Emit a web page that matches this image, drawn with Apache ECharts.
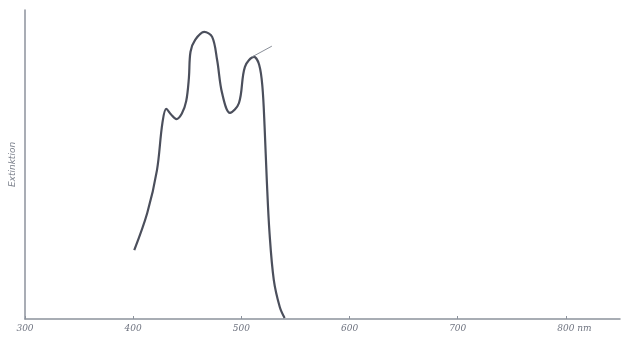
<!DOCTYPE html>
<html>
<head>
<meta charset="utf-8">
<script src="https://cdn.jsdelivr.net/npm/echarts@6/dist/echarts.min.js"></script>
<style>
  html, body { margin: 0; padding: 0; background: #fff; }
  #chart { width: 623px; height: 338px; }
</style>
</head>
<body>
<div id="chart"></div>
<script>
// Wellenlaenge (nm) und Extinktion (relativ, 0..100)
var wavelength = [401, 413, 422, 427, 430.6, 435, 440, 445, 449, 451.5, 453, 457.3, 465.6, 473, 477.6, 482.2, 489.5, 497.8, 503.3, 511.6, 516.5, 519.5, 521.5, 523.5, 526, 530, 535.5, 540];
var extinction = [22.3, 34.3, 48.2, 63.4, 68, 66.2, 64.7, 66.5, 70.5, 78, 86.5, 90.3, 92.9, 91.3, 83.8, 73.1, 66.7, 69.9, 81.6, 84.8, 82.2, 75, 62, 45, 28, 12.6, 3.9, 0.3];
// kleiner Tangentenstrich am dritten Maximum
var tangentX = [509.8, 528.2];
var tangentY = [84.8, 88.3];
var xTicks = [300, 400, 500, 600, 700, 800];

var myChart = echarts.init(document.getElementById('chart'));

var curve = wavelength.map(function (w, i) { return [w, extinction[i]]; });
var tangent = tangentX.map(function (w, i) { return [w, tangentY[i]]; });

var option = {
    backgroundColor: '#ffffff',
    animation: false,
    grid: {
        left: 22,
        right: 3,
        top: 10,
        bottom: 19
    },
    xAxis: {
        type: 'value',
        min: 300,
        max: 850,
        interval: 100,
        axisLine: {
            lineStyle: { color: '#8c929c', width: 1.5 }
        },
        axisTick: {
            show: true,
            inside: true,
            length: 3,
            lineStyle: { color: '#8c929c' }
        },
        splitLine: { show: false },
        axisLabel: {
            showMaxLabel: false,
            margin: 5,
            color: '#6f7480',
            fontSize: 9,
            fontStyle: 'italic',
            fontFamily: 'DejaVu Serif',
            formatter: function (v) {
                if (xTicks.indexOf(v) < 0) return '';
                if (v === 800) return '{p|800 nm}';
                return String(v);
            },
            rich: {
                p: {
                    padding: [0, 0, 0, 17],
                    color: '#6f7480',
                    fontSize: 9,
                    fontStyle: 'italic',
                    fontFamily: 'DejaVu Serif'
                }
            }
        }
    },
    yAxis: {
        type: 'value',
        min: 0,
        max: 100,
        name: 'Extinktion',
        nameLocation: 'middle',
        nameGap: 8,
        nameTextStyle: {
            color: '#7c818c',
            fontSize: 9,
            fontStyle: 'italic',
            fontFamily: 'DejaVu Sans'
        },
        axisLine: {
            show: true,
            lineStyle: { color: '#8c929c', width: 1.5 }
        },
        axisTick: { show: false },
        axisLabel: { show: false },
        splitLine: { show: false }
    },
    series: [
        {
            name: 'Extinktion',
            type: 'line',
            smooth: 0.35,
            symbol: 'none',
            lineStyle: { color: '#4b4f5c', width: 2.2 },
            data: curve
        },
        {
            name: 'Tangente',
            type: 'line',
            symbol: 'none',
            lineStyle: { color: '#8a8f99', width: 1 },
            data: tangent
        }
    ]
};
myChart.setOption(option);
</script>
</body>
</html>
